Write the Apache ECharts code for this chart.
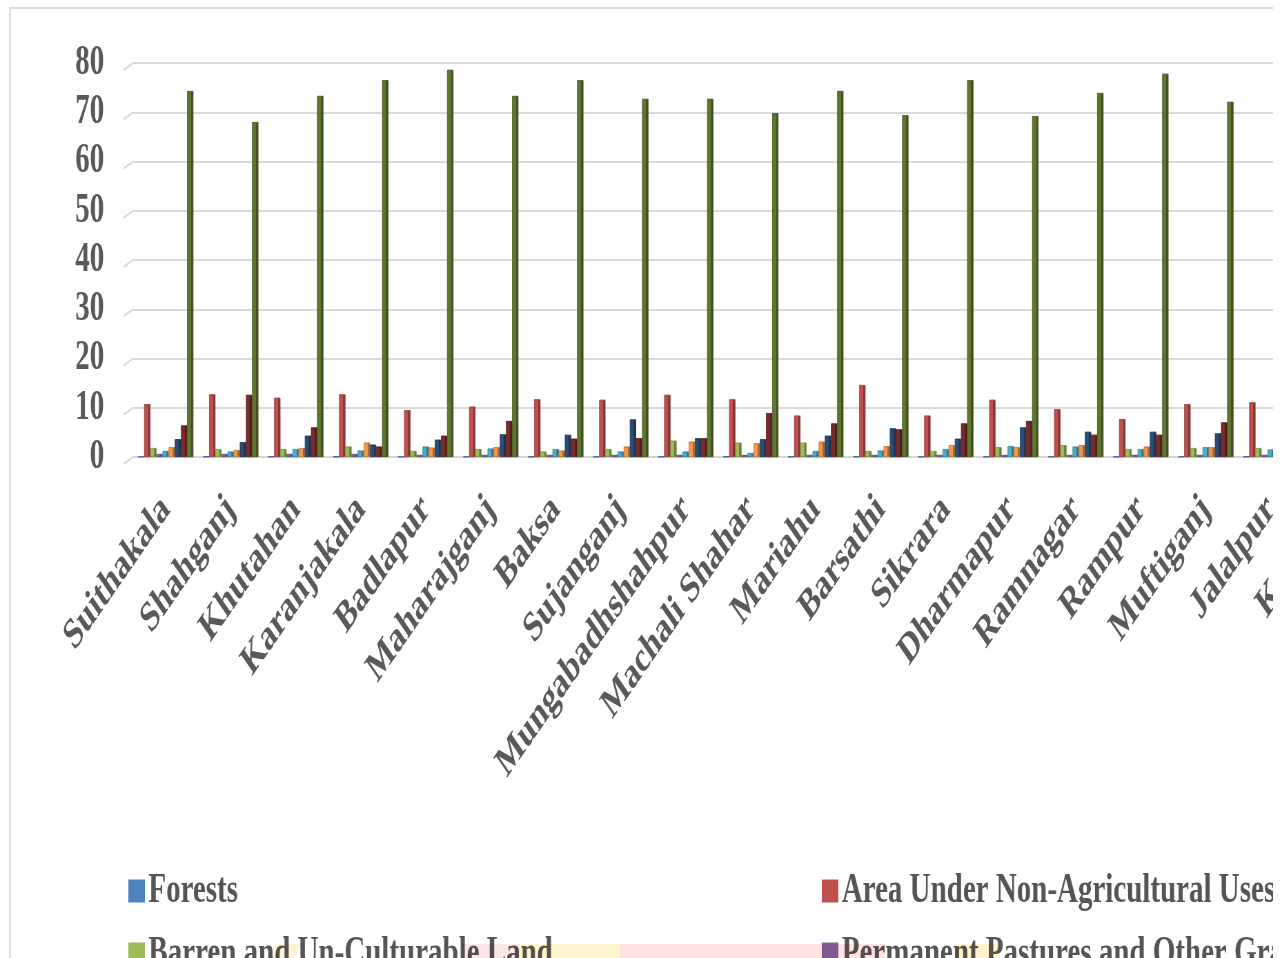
<!DOCTYPE html>
<html>
<head>
<meta charset="utf-8">
<script src="https://cdn.jsdelivr.net/npm/echarts@6/dist/echarts.min.js"></script>
<style>
  html, body { margin: 0; padding: 0; background: #ffffff; overflow: hidden; width: 1286px; height: 958px; }
  #clip { position: absolute; left: 0; top: 0; width: 1273px; height: 958px; overflow: hidden; }
  #chart { position: absolute; left: 0; top: 0; width: 2100px; height: 1250px; transform: scaleX(0.69); transform-origin: 0 0; }
  #edgeTop { position: absolute; left: 9px; top: 7px; width: 1264px; height: 2px; background: #dcdcdc; }
  #edgeLeft { position: absolute; left: 9px; top: 7px; width: 2px; height: 951px; background: #e2e2e2; }
  .tint { position: absolute; mix-blend-mode: multiply; }
</style>
</head>
<body>
<div id="clip"><div id="chart"></div></div>
<div id="edgeTop"></div>
<div id="edgeLeft"></div>
<!-- faint printed band along the lower page edge -->
<div class="tint" style="left:272px; top:944px; width:26px; height:14px; background:#fff3d6; transform:skewX(-30deg);"></div>
<div class="tint" style="left:462px; top:944px; width:58px; height:14px; background:#fde6e6;"></div>
<div class="tint" style="left:520px; top:944px; width:100px; height:14px; background:#fff5cf;"></div>
<div class="tint" style="left:620px; top:944px; width:265px; height:14px; background:#fde2e2;"></div>
<div class="tint" style="left:955px; top:944px; width:45px; height:14px; background:#fff3d0;"></div>
<script>
// Blocks of the district (land-use share, % of reporting area)
const blocks = ['Suithakala', 'Shahganj', 'Khutahan', 'Karanjakala', 'Badlapur', 'Maharajganj', 'Baksa',
  'Sujanganj', 'Mungabadhshahpur', 'Machali Shahar', 'Mariahu', 'Barsathi', 'Sikrara', 'Dharmapur',
  'Ramnagar', 'Rampur', 'Muftiganj', 'Jalalpur', 'Kerakat'];

const forests       = [0.1, 0.1, 0.1, 0.1, 0.1, 0.1, 0.1, 0.1, 0.1, 0.1, 0.1, 0.1, 0.1, 0.1, 0.1, 0.1, 0.1, 0.1, null];
const nonAgri       = [10.7, 12.7, 12.0, 12.7, 9.5, 10.2, 11.7, 11.6, 12.6, 11.7, 8.4, 14.6, 8.4, 11.6, 9.7, 7.7, 10.7, 11.1, null];
const barren        = [1.8, 1.6, 1.6, 2.1, 1.2, 1.6, 1.1, 1.6, 3.3, 2.9, 2.9, 1.2, 1.2, 2.0, 2.4, 1.6, 1.8, 1.8, null];
const pastures      = [0.6, 0.6, 0.6, 0.6, 0.4, 0.4, 0.4, 0.4, 0.4, 0.4, 0.4, 0.4, 0.4, 0.4, 0.4, 0.4, 0.4, 0.4, null];
const treeCrops     = [1.2, 1.1, 1.6, 1.3, 2.1, 1.7, 1.6, 1.1, 1.1, 0.8, 1.2, 1.3, 1.6, 2.2, 2.1, 1.6, 2.0, 1.5, null];
const wasteLand     = [2.0, 1.4, 1.8, 2.9, 1.9, 2.0, 1.3, 2.1, 3.1, 2.8, 3.1, 2.2, 2.4, 2.0, 2.4, 2.1, 2.0, 2.0, null];
const otherFallow   = [3.6, 3.0, 4.3, 2.5, 3.5, 4.6, 4.5, 7.6, 3.8, 3.6, 4.3, 5.8, 3.7, 6.0, 5.1, 5.1, 4.8, 5.0, null];
const currentFallow = [6.4, 12.6, 6.0, 2.1, 4.3, 7.3, 3.7, 3.8, 3.8, 8.9, 6.8, 5.6, 6.8, 7.3, 4.5, 4.5, 7.0, 7.0, null];
const netSown       = [74.3, 68.0, 73.3, 76.5, 78.6, 73.3, 76.5, 72.7, 72.7, 69.8, 74.3, 69.4, 76.5, 69.2, 73.9, 77.8, 72.1, 72.0, null];

const yTicks = [0, 10, 20, 30, 40, 50, 60, 70, 80];

const seriesDefs = [
  { name: 'Forests', data: forests, color: '#4F81BD' },
  { name: 'Area Under Non-Agricultural Uses', data: nonAgri, color: '#C0504D' },
  { name: 'Barren and Un-Culturable Land', data: barren, color: '#9BBB59' },
  { name: 'Permanent Pastures and Other Grazing Land', data: pastures, color: '#8064A2' },
  { name: 'Land Under Misc. Tree Crops and Groves', data: treeCrops, color: '#4BACC6' },
  { name: 'Culturable Waste Land', data: wasteLand, color: '#F79646' },
  { name: 'Other Fallow Land', data: otherFallow, color: '#2C4D75' },
  { name: 'Current Fallow', data: currentFallow, color: '#772C2A' },
  { name: 'Net Sown Area', data: netSown, color: '#5F7530' }
];

function shade(hex, f) {
  const n = parseInt(hex.slice(1), 16);
  const r = Math.round(((n >> 16) & 255) * f), g = Math.round(((n >> 8) & 255) * f), b = Math.round((n & 255) * f);
  return 'rgb(' + Math.min(r, 255) + ',' + Math.min(g, 255) + ',' + Math.min(b, 255) + ')';
}

const font = '"Liberation Serif", "Times New Roman", serif';
const chartHeight = 1250;
const gridLeft = 193;

const chart = echarts.init(document.getElementById('chart'), null, { renderer: 'canvas' });

const series = seriesDefs.map(s => ({
  name: s.name,
  type: 'bar',
  data: s.data,
  barGap: '0%',
  barCategoryGap: '15%',
  itemStyle: {
    color: {
      type: 'linear', x: 0, y: 0, x2: 1, y2: 0,
      colorStops: [
        { offset: 0, color: s.color },
        { offset: 0.62, color: s.color },
        { offset: 0.63, color: shade(s.color, 0.72) },
        { offset: 1, color: shade(s.color, 0.62) }
      ]
    },
    borderColor: shade(s.color, 0.8),
    borderWidth: 0.6
  }
}));

const legendText = { fontFamily: font, fontWeight: 'bold', fontSize: 42, color: '#555555', lineHeight: 44 };
const legendCommon = {
  orient: 'vertical', itemWidth: 24, itemHeight: 23, itemGap: 19, icon: 'rect',
  textStyle: legendText, selectedMode: false, padding: 0
};
const legendItem = i => ({ name: seriesDefs[i].name, itemStyle: { color: seriesDefs[i].color, borderWidth: 0 } });

chart.setOption({
  animation: false,
  backgroundColor: '#ffffff',
  color: seriesDefs.map(s => s.color),
  grid: { left: gridLeft, right: 117, top: 63, bottom: chartHeight - 457 },
  xAxis: {
    type: 'category',
    data: blocks,
    axisLine: { show: true, lineStyle: { color: '#d4d4d4', width: 2 } },
    axisTick: { show: false },
    axisLabel: {
      interval: 0, rotate: 45, margin: 46,
      fontFamily: font, fontWeight: 'bold', fontSize: 43, color: '#595959'
    }
  },
  yAxis: {
    type: 'value', min: 0, max: 80, interval: 10,
    axisLine: { show: false }, axisTick: { show: false },
    splitLine: { lineStyle: { color: '#dadada', width: 2 } },
    axisLabel: {
      margin: 42, fontFamily: font, fontWeight: 'bold', fontSize: 42, color: '#595959',
      formatter: v => (yTicks.indexOf(v) >= 0 ? String(v) : '')
    }
  },
  legend: [
    Object.assign({ left: 186, top: 869, data: [0, 2, 4, 6, 8].map(legendItem) }, legendCommon),
    Object.assign({ left: 1191, top: 869, data: [1, 3, 5, 7].map(legendItem) }, legendCommon)
  ],
  series: series
});

// short slanted lead-ins where each gridline meets the side wall
const wallLines = yTicks.map(v => {
  const y = chart.convertToPixel({ yAxisIndex: 0 }, v);
  return {
    type: 'line',
    shape: { x1: gridLeft - 14, y1: y + 7, x2: gridLeft, y2: y },
    style: { stroke: '#dadada', lineWidth: 2 },
    silent: true
  };
});
chart.setOption({ graphic: wallLines });
</script>
</body>
</html>
